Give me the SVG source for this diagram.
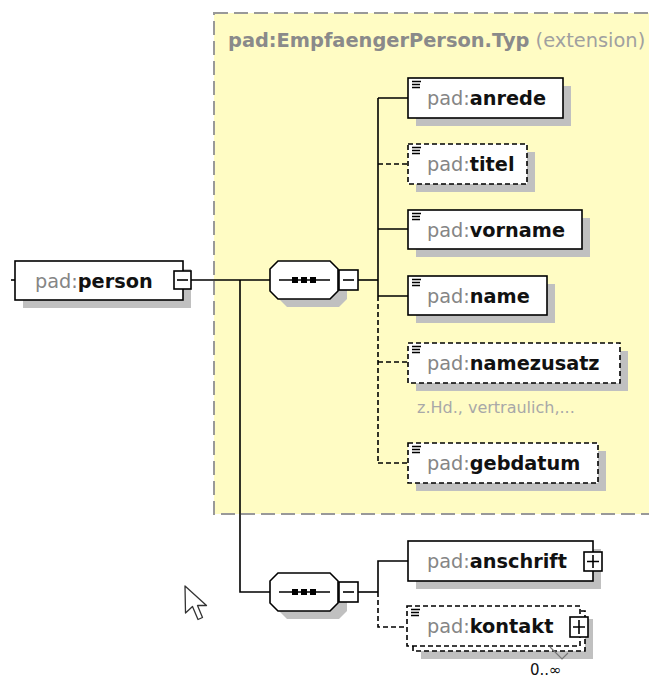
<svg xmlns="http://www.w3.org/2000/svg" width="649" height="679" viewBox="0 0 649 679">
<style>
.t{font-family:"DejaVu Sans",Verdana,sans-serif;font-size:19.3px}
.p{fill:#858585}
.n{font-weight:bold;fill:#111}
.box{fill:#fff;stroke:#000;stroke-width:1.6}
.opt{stroke-dasharray:5 3}
.sh{fill:#c0c0c0}
.ln{stroke:#000;stroke-width:1.6;fill:none}
.dl{stroke-dasharray:5 3}
.ic{stroke:#000;stroke-width:1.5}
</style>
<defs>
<g id="icon"><path class="ic" d="M0,0.5h9M0,3.5h8M0,6.5h8"/></g>
</defs>
<rect x="214" y="13" width="450" height="501" fill="#FFFCC4" stroke="#999" stroke-width="2" stroke-dasharray="14 6"/>
<text class="t" x="228" y="47" style="font-size:19.4px"><tspan font-weight="bold" fill="#8a8a8a">pad:EmpfaengerPerson.Typ</tspan><tspan fill="#a0a0a0"> (extension)</tspan></text>

<g id="connectors">
<path class="ln" d="M11,280H15"/>
<path class="ln" d="M191,280H270"/>
<path class="ln" d="M240,280V592H270"/>
<path class="ln" d="M358,280H378"/>
<path class="ln" d="M378,98V296"/>
<path class="ln" d="M378,98H408M378,229H408M378,296H408"/>
<path class="ln dl" d="M378,164H408"/>
<path class="ln dl" d="M378,296V463"/>
<path class="ln dl" d="M378,362H408M378,463H408"/>
<path class="ln" d="M358,592H378"/>
<path class="ln" d="M378,592V561H408"/>
<path class="ln dl" d="M378,592V627H407"/>
</g>

<g id="person">
<rect class="sh" x="23" y="269" width="168" height="39"/>
<rect class="box" x="15" y="261" width="168" height="39"/>
<text class="t" x="35" y="288"><tspan class="p">pad:</tspan><tspan class="n">person</tspan></text>
<rect class="box" x="174" y="271" width="17" height="18"/>
<path class="ln" d="M177,280H188"/>
</g>

<g id="seq1">
<polygon class="sh" points="287,269 339,269 347,277 347,299 339,307 287,307 279,299 279,277"/>
<polygon class="box" points="278,261 330,261 338,269 338,291 330,299 278,299 270,291 270,269"/>
<path class="ln" d="M279,280H330"/>
<rect x="292" y="277" width="6" height="6" fill="#000"/>
<rect x="301" y="277" width="6" height="6" fill="#000"/>
<rect x="310" y="277" width="6" height="6" fill="#000"/>
<rect class="box" x="339" y="270" width="19" height="20"/>
<path class="ln" d="M343,280H354"/>
</g>

<g id="anrede">
<rect class="sh" x="416" y="86" width="155" height="40"/>
<rect class="box" x="408" y="78" width="155" height="40"/>
<use href="#icon" x="412" y="81"/>
<text class="t" x="427" y="105"><tspan class="p">pad:</tspan><tspan class="n">anrede</tspan></text>
</g>

<g id="titel">
<rect class="sh" x="416" y="152" width="119" height="40"/>
<rect class="box opt" x="408" y="144" width="119" height="40"/>
<use href="#icon" x="412" y="147"/>
<text class="t" x="427" y="171"><tspan class="p">pad:</tspan><tspan class="n">titel</tspan></text>
</g>

<g id="vorname">
<rect class="sh" x="416" y="218" width="174" height="39"/>
<rect class="box" x="408" y="210" width="174" height="39"/>
<use href="#icon" x="412" y="213"/>
<text class="t" x="427" y="237"><tspan class="p">pad:</tspan><tspan class="n">vorname</tspan></text>
</g>

<g id="name">
<rect class="sh" x="416" y="284" width="139" height="39"/>
<rect class="box" x="408" y="276" width="139" height="39"/>
<use href="#icon" x="412" y="279"/>
<text class="t" x="427" y="303"><tspan class="p">pad:</tspan><tspan class="n">name</tspan></text>
</g>

<g id="namezusatz">
<rect class="sh" x="416" y="351" width="212" height="40"/>
<rect class="box opt" x="408" y="343" width="212" height="40"/>
<use href="#icon" x="412" y="346"/>
<text class="t" x="427" y="370"><tspan class="p">pad:</tspan><tspan class="n">namezusatz</tspan></text>
<text x="417" y="413" font-family="DejaVu Sans,Verdana,sans-serif" font-size="16" fill="#a8a8a8">z.Hd., vertraulich,...</text>
</g>

<g id="gebdatum">
<rect class="sh" x="416" y="451" width="190" height="40"/>
<rect class="box opt" x="408" y="443" width="190" height="40"/>
<use href="#icon" x="412" y="446"/>
<text class="t" x="427" y="470"><tspan class="p">pad:</tspan><tspan class="n">gebdatum</tspan></text>
</g>

<g id="seq2">
<polygon class="sh" points="287,581 339,581 347,589 347,611 339,619 287,619 279,611 279,589"/>
<polygon class="box" points="278,573 330,573 338,581 338,603 330,611 278,611 270,603 270,581"/>
<path class="ln" d="M279,592H330"/>
<rect x="292" y="589" width="6" height="6" fill="#000"/>
<rect x="301" y="589" width="6" height="6" fill="#000"/>
<rect x="310" y="589" width="6" height="6" fill="#000"/>
<rect class="box" x="339" y="582" width="19" height="20"/>
<path class="ln" d="M343,592H354"/>
</g>

<g id="anschrift">
<rect class="sh" x="416" y="549" width="185" height="40"/>
<rect class="box" x="408" y="541" width="185" height="40"/>
<text class="t" x="427" y="568"><tspan class="p">pad:</tspan><tspan class="n">anschrift</tspan></text>
<rect class="box" x="584" y="552" width="18" height="19"/>
<path class="ln" d="M587,561.5H599M593,555V568"/>
</g>

<g id="kontakt">
<rect class="sh" x="421" y="619" width="172" height="40"/>
<rect class="box opt" x="413" y="611" width="172" height="40"/>
<rect class="box opt" x="407" y="606" width="173" height="40"/>
<use href="#icon" x="411" y="609"/>
<text class="t" x="427" y="633"><tspan class="p">pad:</tspan><tspan class="n">kontakt</tspan></text>
<rect class="box" x="570" y="617" width="18" height="20"/>
<path class="ln" d="M573,627H585M579,620V634"/>
<path d="M550,647L562,659L568,653" fill="none" stroke="#777" stroke-width="1.2"/>
<text x="530" y="675" font-family="DejaVu Sans,Verdana,sans-serif" font-size="15" fill="#111">0..∞</text>
</g>

<polygon points="185,586 185.5,613 192.5,606.5 198,619.5 202.5,617.5 197.5,605.5 206.5,605.5" fill="#fff" stroke="#333" stroke-width="1.3" stroke-linejoin="round"/>
</svg>
